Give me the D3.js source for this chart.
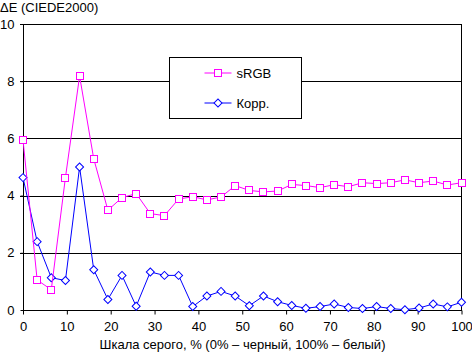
<!DOCTYPE html>
<html>
<head>
<meta charset="utf-8">
<script src="https://cdn.jsdelivr.net/npm/d3@7"></script>
<style>
  body { margin: 0; background: #fff; }
  text { font-family: "Liberation Sans", Arial, sans-serif; font-size: 13px; fill: #000; }
</style>
</head>
<body>
<div id="chart"></div>
<script>
// 32 grey levels, 0..100 %
const steps = d3.range(32);
const srgb = [5.95, 1.05, 0.71, 4.63, 8.18, 5.29, 3.49, 3.93, 4.07, 3.37, 3.30, 3.88, 3.96, 3.85, 3.95, 4.35,
  4.18, 4.13, 4.16, 4.39, 4.35, 4.28, 4.38, 4.31, 4.45, 4.42, 4.45, 4.55, 4.45, 4.51, 4.37, 4.45];
const korr = [4.63, 2.39, 1.13, 1.03, 5.0, 1.41, 0.37, 1.21, 0.13, 1.33, 1.21, 1.21, 0.12, 0.49, 0.65, 0.49,
  0.15, 0.49, 0.29, 0.16, 0.06, 0.12, 0.21, 0.09, 0.05, 0.12, 0.05, 0.01, 0.07, 0.21, 0.11, 0.27];
const xTicks = [0, 10, 20, 30, 40, 50, 60, 70, 80, 90, 100];
const yTicks = [0, 2, 4, 6, 8, 10];
const seriesNames = ["sRGB", "Корр."];

const W = 472, H = 353;
const margin = { top: 24, right: 10, bottom: 43, left: 23 };
const width = W - margin.left - margin.right;
const height = H - margin.top - margin.bottom;

const svg = d3.select("#chart").append("svg")
  .attr("width", W).attr("height", H);

const g = svg.append("g")
  .attr("transform", `translate(${margin.left},${margin.top})`);

const x = d3.scaleLinear().domain([0, 100]).range([0, width - 0.5]);
const y = d3.scaleLinear().domain([0, 10]).range([height, 0]);
const xOf = i => x(i * 100 / 31);

// grid
g.append("g").selectAll("line")
  .data(yTicks.filter(d => d > 0))
  .join("line")
  .attr("x1", -3).attr("x2", width)
  .attr("y1", d => Math.round(y(d)) + 0.5).attr("y2", d => Math.round(y(d)) + 0.5)
  .attr("stroke", "#000");

// y axis
const yAxis = g.append("g").attr("transform", "translate(0.5,0)")
  .call(d3.axisLeft(y).tickValues(yTicks).tickSize(3).tickPadding(6));
yAxis.select(".domain").remove();
yAxis.append("line").attr("y1", 0).attr("y2", height).attr("stroke", "#000");
yAxis.selectAll("text").style("font-size", "13px").attr("font-family", null);

// right border
g.append("line")
  .attr("x1", width - 0.5).attr("x2", width - 0.5)
  .attr("y1", 0).attr("y2", height).attr("stroke", "#000");

// x axis
const xAxis = g.append("g").attr("transform", `translate(0,${height + 0.5})`)
  .call(d3.axisBottom(x).tickValues(xTicks).tickSize(4).tickPadding(7));
xAxis.select(".domain").remove();
xAxis.append("line").attr("x1", 0).attr("x2", width).attr("stroke", "#000");
xAxis.selectAll("text").style("font-size", "13px").attr("font-family", null);
xAxis.selectAll(".tick line").attr("stroke", "#000");

svg.append("text").attr("x", 0).attr("y", 12).text("ΔE (CIEDE2000)");
svg.append("text").attr("x", margin.left + width / 2).attr("y", 349)
  .attr("text-anchor", "middle")
  .text("Шкала серого, % (0% – черный, 100% – белый)");

const line = d3.line().x((d, i) => xOf(i)).y(d => y(d));

// Корр. series
g.append("path").datum(korr).attr("d", line)
  .attr("fill", "none").attr("stroke", "#0000ff").attr("stroke-width", 1);
g.append("g").selectAll("path")
  .data(korr).join("path")
  .attr("d", d3.symbol(d3.symbolSquare, 32))
  .attr("transform", (d, i) => `translate(${xOf(i)},${y(d)}) rotate(45)`)
  .attr("fill", "#fff").attr("stroke", "#0000ff");

// sRGB series
g.append("path").datum(srgb).attr("d", line)
  .attr("fill", "none").attr("stroke", "#ff00ff").attr("stroke-width", 1);
g.append("g").selectAll("rect")
  .data(srgb).join("rect")
  .attr("x", (d, i) => Math.round(xOf(i)) - 3.5)
  .attr("y", d => Math.round(y(d)) - 3.5)
  .attr("width", 7).attr("height", 7)
  .attr("fill", "#fff").attr("stroke", "#ff00ff");

// legend
const legend = svg.append("g").attr("transform", "translate(169.5,57.5)");
legend.append("rect").attr("width", 132).attr("height", 61)
  .attr("fill", "#fff").attr("stroke", "#000");
const colors = ["#ff00ff", "#0000ff"];
seriesNames.forEach((name, k) => {
  const ly = 15.5 + k * 30;
  legend.append("line").attr("x1", 35).attr("x2", 62).attr("y1", ly).attr("y2", ly)
    .attr("stroke", colors[k]);
  if (k === 0) {
    legend.append("rect").attr("x", 45).attr("y", ly - 3.5).attr("width", 7).attr("height", 7)
      .attr("fill", "#fff").attr("stroke", colors[k]);
  } else {
    legend.append("path").attr("d", d3.symbol(d3.symbolSquare, 32))
      .attr("transform", `translate(48.5,${ly}) rotate(45)`)
      .attr("fill", "#fff").attr("stroke", colors[k]);
  }
  legend.append("text").attr("x", 67).attr("y", ly + 4.5).text(name);
});
</script>
</body>
</html>
